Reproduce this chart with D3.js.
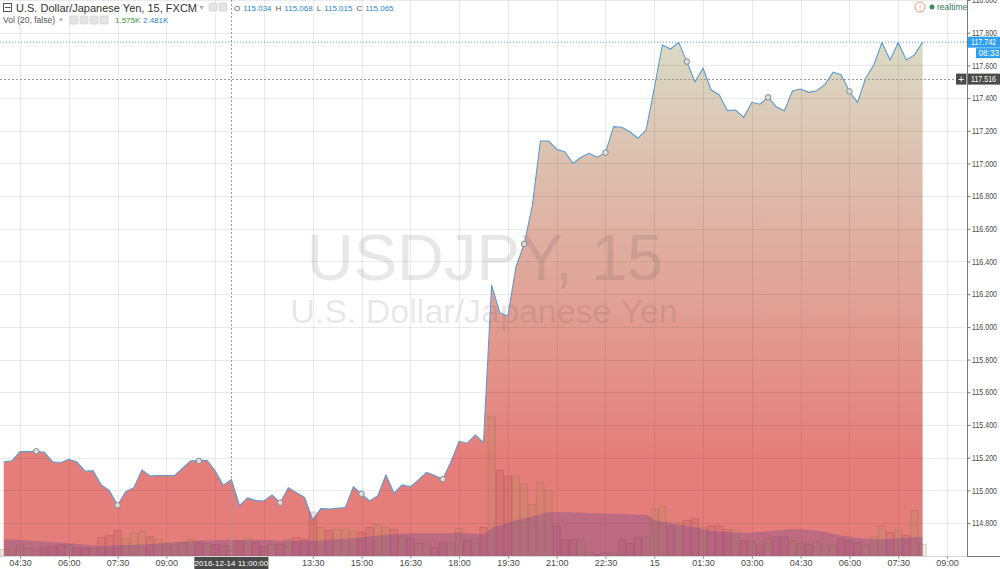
<!DOCTYPE html>
<html>
<head>
<meta charset="utf-8">
<script src="https://cdn.jsdelivr.net/npm/d3@7"></script>
<style>
  body { margin: 0; background: #fff; }
  svg { display: block; font-family: "Liberation Sans", Arial, sans-serif; }
</style>
</head>
<body>
<div id="chart"></div>
<script>
// 15 minute closes, USDJPY FXCM, starting 2016-12-14 04:00
const startTime = '2016-12-14 04:00';
const stepMinutes = 15;

const closes = [
  115.175, 115.180, 115.237, 115.237, 115.239, 115.233, 115.175, 115.169, 115.190, 115.173,
  115.118, 115.120, 115.033, 114.998, 114.909, 114.992, 115.016, 115.124, 115.088, 115.090,
  115.090, 115.090, 115.135, 115.181, 115.180, 115.184, 115.120, 115.031, 115.065, 114.906,
  114.953, 114.937, 114.935, 114.972, 114.924, 115.016, 114.986, 114.957, 114.819, 114.888,
  114.886, 114.890, 114.894, 115.022, 114.978, 114.935, 114.967, 115.094, 114.982, 115.033,
  115.021, 115.063, 115.110, 115.090, 115.068, 115.175, 115.300, 115.288, 115.339, 115.292,
  116.256, 116.087, 116.067, 116.368, 116.507, 116.740, 117.137, 117.137, 117.087, 117.072,
  117.001, 117.038, 117.062, 117.038, 117.066, 117.225, 117.221, 117.194, 117.154, 117.205,
  117.460, 117.725, 117.700, 117.741, 117.623, 117.500, 117.582, 117.449, 117.419, 117.323,
  117.327, 117.282, 117.374, 117.362, 117.405, 117.347, 117.323, 117.443, 117.455, 117.435,
  117.445, 117.484, 117.558, 117.541, 117.441, 117.374, 117.521, 117.602, 117.739, 117.633,
  117.739, 117.633, 117.664, 117.742
];

// volume in thousands
const volumes = [
  0.98, 1.14, 1.65, 1.14, 0.98, 1.38, 1.49, 1.65, 1.75, 1.29,
  1.23, 1.14, 2.83, 3.18, 3.95, 2.68, 3.54, 3.75, 2.92, 2.52,
  1.91, 1.75, 2.06, 2.52, 2.15, 1.91, 1.80, 1.65, 1.575, 2.31,
  2.68, 2.15, 1.49, 1.80, 1.80, 2.52, 2.83, 2.52, 6.77, 4.37,
  3.95, 4.06, 4.06, 3.85, 3.69, 4.37, 4.88, 4.37, 4.06, 3.03,
  2.68, 1.91, 2.00, 1.29, 2.15, 2.00, 4.22, 2.42, 2.68, 4.37,
  21.4, 13.2, 12.3, 12.3, 11.1, 7.95, 11.3, 10.1, 4.57, 2.52,
  2.52, 2.42, 0.62, 0.26, 0.46, 0.46, 2.52, 1.91, 2.83, 3.03,
  7.14, 7.65, 4.60, 5.14, 5.49, 5.75, 4.37, 4.62, 4.62, 4.06,
  4.06, 2.42, 2.31, 1.65, 2.68, 2.92, 2.92, 2.42, 1.91, 1.80,
  2.26, 1.65, 1.65, 2.68, 2.42, 2.06, 1.80, 2.92, 4.62, 3.60,
  4.06, 3.18, 7.03, 1.80
];

// Vol MA(20), thousands
const volumeMA = [
  2.57, 2.54, 2.46, 2.38, 2.31, 2.23, 2.15, 2.08, 1.95, 1.85,
  1.77, 1.62, 1.54, 1.58, 1.65, 1.69, 1.69, 1.77, 1.85, 1.92,
  2.05, 2.11, 2.18, 2.26, 2.35, 2.38, 2.42, 2.46, 2.481, 2.46,
  2.46, 2.46, 2.46, 2.43, 2.38, 2.38, 2.35, 2.38, 2.35, 2.38,
  2.46, 2.57, 2.66, 2.72, 2.85, 3.00, 3.15, 3.26, 3.34, 3.42,
  3.46, 3.49, 3.49, 3.49, 3.49, 3.54, 3.57, 3.49, 3.42, 3.34,
  4.31, 4.69, 5.08, 5.54, 5.77, 6.08, 6.38, 6.72, 6.72, 6.72,
  6.69, 6.66, 6.62, 6.57, 6.54, 6.49, 6.46, 6.42, 6.35, 6.31,
  5.54, 5.31, 5.08, 4.85, 4.62, 4.42, 4.15, 3.85, 3.77, 3.69,
  3.62, 3.58, 3.62, 3.69, 3.80, 3.92, 4.05, 4.11, 4.11, 4.03,
  3.89, 3.69, 3.38, 3.15, 2.97, 2.80, 2.69, 2.62, 2.57, 2.66,
  2.72, 2.82, 2.88, 2.97
];

const timeTicks = [
  '2016-12-14 04:30', '2016-12-14 06:00', '2016-12-14 07:30', '2016-12-14 09:00',
  '2016-12-14 10:30', '2016-12-14 12:00', '2016-12-14 13:30', '2016-12-14 15:00',
  '2016-12-14 16:30', '2016-12-14 18:00', '2016-12-14 19:30', '2016-12-14 21:00',
  '2016-12-14 22:30', '2016-12-15 00:00', '2016-12-15 01:30', '2016-12-15 03:00',
  '2016-12-15 04:30', '2016-12-15 06:00', '2016-12-15 07:30', '2016-12-15 09:00'
];
const priceTicks = [114.8, 115.0, 115.2, 115.4, 115.6, 115.8, 116.0, 116.2, 116.4,
  116.6, 116.8, 117.0, 117.2, 117.4, 117.6, 117.8, 118.0];

const lastPrice = 117.742;
const crossPrice = 117.516;
const crossTime = '2016-12-14 11:00';
const ohlc = [['O', '115.034'], ['H', '115.068'], ['L', '115.015'], ['C', '115.065']];
const volLegend = ['1.575K', '2.481K'];

const W = 1000, H = 569;
const plotR = 967, plotB = 556;
const labelLen = 25;   // squeezed width of the price labels, they have to fit the 33px strip

const parse = d3.timeParse('%Y-%m-%d %H:%M');
const t0 = parse(startTime);
const data = closes.map((c, i) => ({
  t: d3.timeMinute.offset(t0, i * stepMinutes),
  close: c,
  vol: volumes[i],
  ma: volumeMA[i],
  up: i === 0 ? true : c >= closes[i - 1]
}));

const svg = d3.select('#chart').append('svg')
  .attr('width', W).attr('height', H);

const x = d3.scaleTime()
  .domain([parse(timeTicks[0]), parse(timeTicks[timeTicks.length - 1])])
  .range([20, 947]);
const y = d3.scaleLinear().domain([114.8, 118.0]).range([523, 0]);
const yVol = d3.scaleLinear().domain([0, 20]).range([plotB, plotB - 130]);

const barW = x(d3.timeMinute.offset(t0, stepMinutes)) - x(t0);

const defs = svg.append('defs');
defs.append('clipPath').attr('id', 'plot-clip')
  .append('rect').attr('x', 0).attr('y', 0).attr('width', plotR).attr('height', plotB);

const grad = defs.append('linearGradient')
  .attr('id', 'area-grad')
  .attr('gradientUnits', 'userSpaceOnUse')
  .attr('x1', 0).attr('x2', 0)
  .attr('y1', y(117.75)).attr('y2', y(115.2));
grad.append('stop').attr('offset', '0%').attr('stop-color', '#dadbc5');
grad.append('stop').attr('offset', '100%').attr('stop-color', '#e57e7a');

const plot = svg.append('g').attr('clip-path', 'url(#plot-clip)');

// price area
const area = d3.area()
  .x(d => x(d.t))
  .y0(plotB)
  .y1(d => y(d.close));
plot.append('path')
  .datum(data)
  .attr('d', area)
  .attr('fill', 'url(#area-grad)');

// watermark, drawn over the area
plot.append('text')
  .attr('x', 485).attr('y', 280)
  .attr('text-anchor', 'middle')
  .attr('font-size', 65)
  .attr('fill', 'rgba(70,70,70,0.13)')
  .text('USDJPY, 15');
plot.append('text')
  .attr('x', 484).attr('y', 323)
  .attr('text-anchor', 'middle')
  .attr('font-size', 34)
  .attr('fill', 'rgba(70,70,70,0.13)')
  .text('U.S. Dollar/Japanese Yen');

// grid over the area, light
const grid = plot.append('g').attr('stroke', 'rgba(0,0,0,0.08)').attr('stroke-width', 1);
grid.selectAll('line.v')
  .data(timeTicks.map(parse))
  .enter().append('line')
  .attr('x1', d => Math.round(x(d)) + 0.5).attr('x2', d => Math.round(x(d)) + 0.5)
  .attr('y1', 0).attr('y2', plotB);
grid.selectAll('line.h')
  .data(priceTicks)
  .enter().append('line')
  .attr('x1', 0).attr('x2', plotR)
  .attr('y1', d => Math.round(y(d)) + 0.5).attr('y2', d => Math.round(y(d)) + 0.5);

plot.append('path')
  .datum(data)
  .attr('d', d3.line().x(d => x(d.t)).y(d => y(d.close)))
  .attr('fill', 'none')
  .attr('stroke', '#5b9bd0')
  .attr('stroke-width', 1.1);

// volume bars
plot.append('g')
  .selectAll('rect')
  .data(data)
  .enter().append('rect')
  .attr('x', d => x(d.t) - barW / 2 + 0.5)
  .attr('width', barW - 1)
  .attr('y', d => yVol(d.vol))
  .attr('height', d => plotB - yVol(d.vol))
  .attr('fill', d => d.up ? 'rgba(150,140,70,0.16)' : 'rgba(150,60,70,0.12)')
  .attr('stroke', d => d.up ? 'rgba(140,110,70,0.35)' : 'rgba(130,50,60,0.28)')
  .attr('stroke-width', 0.8);

// volume MA area
plot.append('path')
  .datum(data)
  .attr('d', d3.area().x(d => x(d.t)).y0(plotB).y1(d => yVol(d.ma)).curve(d3.curveMonotoneX))
  .attr('fill', 'rgba(110,70,150,0.33)');

// markers on the line
plot.append('g')
  .selectAll('circle')
  .data(data.filter((d, i) => i % 10 === 4))
  .enter().append('circle')
  .attr('cx', d => x(d.t))
  .attr('cy', d => y(d.close))
  .attr('r', 2.8)
  .attr('fill', '#dcdcdc')
  .attr('stroke', '#8a8a8a')
  .attr('stroke-width', 1);

// last price dotted line, crosshair
plot.append('line')
  .attr('x1', 0).attr('x2', plotR)
  .attr('y1', y(lastPrice)).attr('y2', y(lastPrice))
  .attr('stroke', '#4aa3e0').attr('stroke-width', 1).attr('stroke-dasharray', '1,2');
plot.append('line')
  .attr('x1', 0).attr('x2', plotR)
  .attr('y1', Math.round(y(crossPrice)) + 0.5).attr('y2', Math.round(y(crossPrice)) + 0.5)
  .attr('stroke', '#9a9a9a').attr('stroke-width', 1).attr('stroke-dasharray', '2,2');
plot.append('line')
  .attr('x1', Math.round(x(parse(crossTime))) + 0.5).attr('x2', Math.round(x(parse(crossTime))) + 0.5)
  .attr('y1', 0).attr('y2', plotB)
  .attr('stroke', '#9a9a9a').attr('stroke-width', 1).attr('stroke-dasharray', '2,2');

// right price axis
const yAxis = svg.append('g')
  .attr('transform', `translate(${plotR + 0.5},0)`)
  .call(d3.axisRight(y).tickValues(priceTicks).tickFormat(d3.format('.3f')).tickSize(3).tickPadding(1.5));
yAxis.select('.domain').attr('stroke', '#7a7a7a').attr('d', `M0,0V${plotB}`);
yAxis.selectAll('.tick line').attr('stroke', '#7a7a7a');
yAxis.selectAll('.tick text')
  .attr('font-size', 8.4).attr('fill', '#4a4a4a')
  .attr('textLength', labelLen).attr('lengthAdjust', 'spacingAndGlyphs')
  .attr('font-family', '"Liberation Sans", Arial, sans-serif');

// bottom time axis
svg.append('line')
  .attr('x1', 0).attr('x2', W).attr('y1', plotB + 0.5).attr('y2', plotB + 0.5)
  .attr('stroke', '#d8d8d8');
svg.append('line')
  .attr('x1', plotR).attr('x2', W).attr('y1', plotB + 0.5).attr('y2', plotB + 0.5)
  .attr('stroke', '#7a7a7a');
const fmtHM = d3.timeFormat('%H:%M');
const fmtDay = d3.timeFormat('%-d');
const cx = x(parse(crossTime));
const boxW = 74;
// labels hidden under the crosshair date box are left out
const shownTicks = timeTicks.map(parse).filter(d => Math.abs(x(d) - cx) > boxW / 2 + 12);
const xAxis = svg.append('g')
  .attr('transform', `translate(0,${plotB + 0.5})`)
  .call(d3.axisBottom(x)
    .tickValues(shownTicks)
    .tickFormat(d => (d.getHours() === 0 && d.getMinutes() === 0) ? fmtDay(d) : fmtHM(d))
    .tickSize(2).tickPadding(1));
xAxis.select('.domain').remove();
xAxis.selectAll('.tick line').attr('stroke', '#7a7a7a');
xAxis.selectAll('.tick text')
  .attr('font-size', 9).attr('fill', '#4a4a4a')
  .attr('font-family', '"Liberation Sans", Arial, sans-serif');

// crosshair date label
svg.append('rect')
  .attr('x', cx - boxW / 2).attr('y', plotB + 1).attr('width', boxW).attr('height', 12)
  .attr('fill', '#4a4a4a');
svg.append('text')
  .attr('x', cx).attr('y', plotB + 10)
  .attr('text-anchor', 'middle').attr('font-size', 8).attr('fill', '#fff')
  .text(d3.timeFormat('%Y-%m-%d %H:%M:%S')(parse(crossTime)));

// price tags
const yl = y(lastPrice);
svg.append('rect').attr('x', plotR + 1).attr('y', yl - 5.5).attr('width', W - plotR).attr('height', 11)
  .attr('fill', '#2f9ff0');
svg.append('text').attr('x', plotR + 4).attr('y', yl + 3)
  .attr('font-size', 8.4).attr('fill', '#fff')
  .attr('textLength', labelLen).attr('lengthAdjust', 'spacingAndGlyphs')
  .text(d3.format('.3f')(lastPrice));
svg.append('rect').attr('x', 976).attr('y', yl + 6).attr('width', W - 976).attr('height', 10)
  .attr('fill', '#2f9ff0');
svg.append('text').attr('x', 978.5).attr('y', yl + 14)
  .attr('font-size', 8.2).attr('fill', '#fff').text('08:33');

const yc = y(crossPrice);
svg.append('rect').attr('x', 956).attr('y', yc - 5.5).attr('width', 10.5).attr('height', 11)
  .attr('fill', '#4a4a4a');
svg.append('text').attr('x', 961.2).attr('y', yc + 3.8)
  .attr('text-anchor', 'middle').attr('font-size', 10).attr('fill', '#fff').text('+');
svg.append('rect').attr('x', plotR + 1).attr('y', yc - 5.5).attr('width', W - plotR).attr('height', 11)
  .attr('fill', '#4a4a4a');
svg.append('text').attr('x', plotR + 4).attr('y', yc + 3)
  .attr('font-size', 8.4).attr('fill', '#fff')
  .attr('textLength', labelLen).attr('lengthAdjust', 'spacingAndGlyphs')
  .text(d3.format('.3f')(crossPrice));

// header legend
const head = svg.append('g');
head.append('rect').attr('x', 3.5).attr('y', 3.5).attr('width', 8).attr('height', 8)
  .attr('fill', 'none').attr('stroke', '#555');
head.append('line').attr('x1', 5).attr('x2', 10.5).attr('y1', 7.5).attr('y2', 7.5).attr('stroke', '#555');
head.append('text').attr('x', 16).attr('y', 11.5).attr('font-size', 11).attr('fill', '#333')
  .text('U.S. Dollar/Japanese Yen, 15, FXCM');
head.append('text').attr('x', 198).attr('y', 10).attr('font-size', 7).attr('fill', '#aaa').text('▼');

function iconBoxes(x0, yTop, n) {
  for (let i = 0; i < n; i++) {
    head.append('rect').attr('x', x0 + i * 10).attr('y', yTop).attr('width', 8).attr('height', 8)
      .attr('fill', '#e4e4e4').attr('stroke', '#d2d2d2').attr('stroke-width', 0.8).attr('rx', 1);
  }
}
iconBoxes(209, 3, 2);

let ox = 234;
ohlc.forEach(([k, v]) => {
  const tk = head.append('text').attr('x', ox).attr('y', 10.5).attr('font-size', 8).attr('fill', '#555').text(k);
  ox += tk.node().getComputedTextLength() + 3;
  const tv = head.append('text').attr('x', ox).attr('y', 10.5).attr('font-size', 8).attr('fill', '#2a86c8').text(v);
  ox += tv.node().getComputedTextLength() + 4;
});

head.append('text').attr('x', 3).attr('y', 23).attr('font-size', 8.5).attr('fill', '#555').text('Vol (20, false)');
head.append('text').attr('x', 58).attr('y', 22).attr('font-size', 6).attr('fill', '#aaa').text('▼');
iconBoxes(70, 16, 4);
head.append('text').attr('x', 115).attr('y', 23).attr('font-size', 8).attr('fill', '#3d8f3d').text(volLegend[0]);
head.append('text').attr('x', 143).attr('y', 23).attr('font-size', 8).attr('fill', '#2a86c8').text(volLegend[1]);

// realtime badge
head.append('circle').attr('cx', 920).attr('cy', 7).attr('r', 5)
  .attr('fill', 'none').attr('stroke', '#e49a6c').attr('stroke-width', 1);
head.append('text').attr('x', 920).attr('y', 10).attr('text-anchor', 'middle')
  .attr('font-size', 8).attr('fill', '#e49a6c').text('!');
head.append('circle').attr('cx', 932).attr('cy', 7).attr('r', 2.5).attr('fill', '#3a8f5e');
head.append('text').attr('x', 937).attr('y', 10).attr('font-size', 8.5).attr('fill', '#3a7a5a').text('realtime');
</script>
</body>
</html>
